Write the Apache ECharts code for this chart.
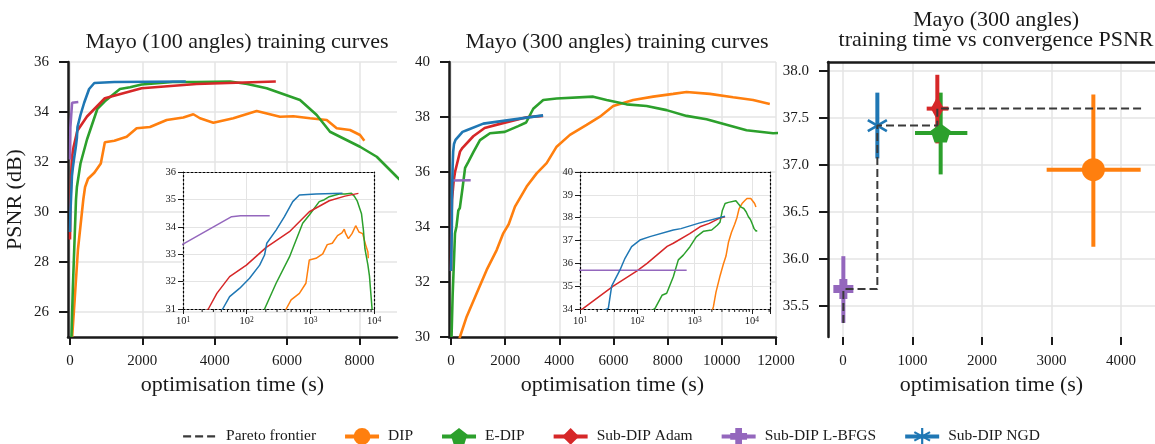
<!DOCTYPE html>
<html>
<head>
<meta charset="utf-8">
<script src="https://cdn.jsdelivr.net/npm/echarts@6/dist/echarts.min.js"></script>
<style>
html, body { margin: 0; padding: 0; background: #fff; }
#main { width: 1155px; height: 444px; }
</style>
</head>
<body>
<div id="main"></div>
<script>
var FONT = "'Liberation Serif', 'DejaVu Serif', serif";
var INK = '#1a1a1a';
var GRIDC = '#e4e4e4';

var methods = ['DIP', 'E-DIP', 'Sub-DIP Adam', 'Sub-DIP L-BFGS', 'Sub-DIP NGD'];
var colors = ['#ff7f0e', '#2ca02c', '#d62728', '#9467bd', '#1f77b4'];

// Mayo 100 angles: [time (s), PSNR (dB)]
var dip100 = [[60, 25.0], [130, 26.5], [220, 28.5], [368, 30.5], [417, 31.0], [499, 31.33], [673, 31.57], [852, 31.94],
  [964, 32.79], [1227, 32.85], [1290, 32.88], [1567, 33.01], [1843, 33.35], [2212, 33.4], [2673, 33.68], [3133, 33.78],
  [3410, 33.91], [3594, 33.75], [3963, 33.57], [4516, 33.75], [5161, 34.04], [5806, 33.81], [6175, 33.83], [6636, 33.75],
  [7097, 33.68], [7373, 33.35], [7741, 33.28], [8018, 33.08], [8137, 32.85]];
var edip100 = [[40, 25.0], [80, 27.0], [166, 30.5], [191, 31.0], [290, 31.94], [470, 32.9], [758, 34.13], [964, 34.43],
  [1380, 34.92], [1659, 34.99], [1981, 35.1], [2840, 35.2], [3500, 35.2], [4424, 35.22], [4900, 35.12], [5437, 34.95],
  [6359, 34.48], [6820, 33.88], [7188, 33.21], [8017, 32.61], [8480, 32.21], [9032, 31.41], [9400, 30.9]];
var adam100 = [[1, 28.9], [10, 30.1], [25, 31.0], [34, 31.57], [54, 32.18], [99, 32.6], [203, 33.25], [470, 33.82],
  [964, 34.55], [1981, 34.95], [3500, 35.12], [5690, 35.22]];
var lbfgs100 = [[1, 32.1], [10, 33.37], [58, 34.37], [80, 34.4], [230, 34.4]];
var ngd100 = [[1, 29.2], [10, 29.9], [30, 30.6], [42, 31.0], [54, 31.45], [78, 31.76], [111, 32.12], [160, 32.6],
  [191, 32.97], [207, 33.4], [290, 33.88], [392, 34.37], [529, 34.92], [673, 35.16], [1227, 35.2], [3200, 35.22]];

// Mayo 300 angles: [time (s), PSNR (dB)]
var dip300 = [[250, 29.6], [332, 30.01], [578, 30.74], [948, 31.59], [1317, 32.44], [1686, 33.16], [1930, 33.77],
  [2130, 34.1], [2362, 34.74], [2793, 35.47], [3162, 35.95], [3531, 36.32], [3900, 36.92], [4391, 37.35], [5007, 37.71],
  [5498, 38.01], [5989, 38.4], [6727, 38.62], [7465, 38.74], [8203, 38.84], [8697, 38.91], [9557, 38.84], [10417, 38.72],
  [11155, 38.62], [11771, 38.47]];
var edip300 = [[20, 30.0], [60, 31.5], [148, 33.77], [204, 34.03], [270, 34.6], [326, 34.69], [425, 35.41], [520, 36.15],
  [635, 36.36], [831, 36.73], [1070, 37.16], [1439, 37.41], [1985, 37.46], [2483, 37.67], [2774, 37.8], [3037, 38.3],
  [3406, 38.62], [3900, 38.67], [5251, 38.74], [5745, 38.62], [6483, 38.46], [7221, 38.4], [7959, 38.25], [8697, 38.04],
  [9435, 37.92], [10173, 37.72], [10911, 37.52], [11893, 37.41], [12420, 37.43]];
var adam300 = [[1, 32.4], [11.4, 34.03], [38, 35.0], [97.5, 35.66], [148, 36.0], [332, 36.74], [425, 36.88], [823, 37.3],
  [1242, 37.6], [1808, 37.75], [2793, 37.99], [3400, 38.04]];
var lbfgs300 = [[1, 35.69], [727, 35.7]];
var ngd300 = [[1, 32.4], [31.2, 34.03], [35.7, 35.0], [49.9, 35.71], [61, 36.22], [79.6, 36.73], [111, 37.02], [166, 37.17],
  [425, 37.46], [578, 37.52], [1193, 37.76], [3400, 38.06]];

var curves100 = [dip100, edip100, adam100, lbfgs100, ngd100];
var curves300 = [dip300, edip300, adam300, lbfgs300, ngd300];

// convergence (300 angles): mean time / PSNR with error extents
var convTime = [3602, 1405, 1357, 5, 494];
var convTimeLo = [2930, 1036, 1204, -60, 470];
var convTimeHi = [4283, 1789, 1516, 70, 520];
var convPsnr = [36.95, 37.34, 37.60, 35.68, 37.42];
var convPsnrLo = [36.13, 36.90, 37.23, 35.32, 37.07];
var convPsnrHi = [37.75, 37.77, 37.96, 36.03, 37.77];
var paretoTime = [5, 5, 494, 494, 1357, 1357, 4320];
var paretoPsnr = [35.32, 35.68, 35.68, 37.42, 37.42, 37.60, 37.60];

var timeTicks100 = [0, 2000, 4000, 6000, 8000];
var psnrTicks100 = [26, 28, 30, 32, 34, 36];
var timeTicks300 = [0, 2000, 4000, 6000, 8000, 10000, 12000];
var psnrTicks300 = [30, 32, 34, 36, 38, 40];
var convTimeTicks = [0, 1000, 2000, 3000, 4000];
var convPsnrTicks = [35.5, 36.0, 36.5, 37.0, 37.5, 38.0];

var symbols = [
  'circle',
  'path://M0,-1 L0.951,-0.309 L0.588,0.809 L-0.588,0.809 L-0.951,-0.309 Z',
  'diamond',
  'path://M-0.4,-1 L0.4,-1 L0.4,-0.4 L1,-0.4 L1,0.4 L0.4,0.4 L0.4,1 L-0.4,1 L-0.4,0.4 L-1,0.4 L-1,-0.4 L-0.4,-0.4 Z',
  'path://M-0.12,-1 L0.12,-1 L0.12,1 L-0.12,1 Z M-0.926,-0.396 L-0.806,-0.604 L0.926,0.396 L0.806,0.604 Z M-0.806,0.604 L-0.926,0.396 L0.806,-0.604 L0.926,-0.396 Z'
];
var symbolSizes = [23, 20, [13, 24], 20, 22];

function logMinor(lo, hi) {
  var out = [];
  for (var e = 1; e <= 4; e++) {
    for (var k = 2; k <= 9; k++) {
      var v = k * Math.pow(10, e);
      if (v > lo && v < hi) out.push(v);
    }
  }
  return out;
}

var tickFont = { fontFamily: FONT, fontSize: 15, color: INK };

function mainX(grid, min, max, ticks, showLine) {
  return {
    type: 'value', gridIndex: grid, min: min, max: max,
    axisLine: { show: showLine, onZero: false, lineStyle: { color: INK, width: 2.5 } },
    axisTick: { show: true, customValues: ticks, length: 8, lineStyle: { color: INK, width: 2 } },
    axisLabel: Object.assign({ customValues: ticks, margin: 17, formatter: function (v) { return String(v); } }, tickFont),
    splitLine: { show: true, lineStyle: { color: GRIDC, width: 1.5 } },
    name: 'optimisation time (s)', nameLocation: 'middle', nameGap: 37,
    nameTextStyle: { fontFamily: FONT, fontSize: 22, color: INK }
  };
}
function mainY(grid, min, max, ticks, fmt, name) {
  return {
    type: 'value', gridIndex: grid, min: min, max: max,
    axisLine: { show: true, onZero: false, lineStyle: { color: INK, width: 2.5 } },
    axisTick: { show: true, customValues: ticks, length: 9, lineStyle: { color: INK, width: 2 } },
    axisLabel: Object.assign({ customValues: ticks, margin: 19, formatter: fmt }, tickFont),
    splitLine: { show: true, lineStyle: { color: GRIDC, width: 1.5 } },
    name: name || '', nameLocation: 'middle', nameGap: 42,
    nameTextStyle: { fontFamily: FONT, fontSize: 22, color: INK }
  };
}
var dotted = { show: true, onZero: false, lineStyle: { color: '#000', width: 1.2, type: [2, 2] } };
function insetX(grid, max) {
  return {
    type: 'log', logBase: 10, gridIndex: grid, min: 10, max: max, z: 6,
    axisLine: dotted,
    axisTick: { show: true, length: 5, lineStyle: { color: INK, width: 1 } },
    axisLabel: {
      margin: 7, fontFamily: FONT, fontSize: 10.5, color: INK,
      formatter: function (v) {
        var l = Math.log(v) / Math.LN10, e = Math.round(l);
        if (Math.abs(l - e) > 1e-6) return '';
        return '10{s|' + e + '}';
      },
      rich: { s: { fontFamily: FONT, fontSize: 7.5, color: INK, verticalAlign: 'top' } }
    },
    splitLine: { show: true, lineStyle: { color: GRIDC, width: 1 } }
  };
}
function insetY(grid, min, max) {
  return {
    type: 'value', gridIndex: grid, min: min, max: max, interval: 1, z: 6,
    axisLine: dotted,
    axisTick: { show: true, length: 5, lineStyle: { color: INK, width: 1 } },
    axisLabel: { margin: 7, fontFamily: FONT, fontSize: 10.5, color: INK },
    splitLine: { show: true, lineStyle: { color: GRIDC, width: 1 } }
  };
}
function borderAxis(type, grid, pos, min, max, lineStyle, z) {
  return {
    type: type, gridIndex: grid, position: pos, min: min, max: max, z: z,
    axisLine: { show: true, onZero: false, lineStyle: lineStyle },
    axisTick: { show: false }, axisLabel: { show: false }, splitLine: { show: false }
  };
}

var series = [];

// right panel markers first, so the legend takes its icons from them
methods.forEach(function (m, i) {
  series.push({
    type: 'line', name: m, xAxisIndex: 6, yAxisIndex: 6,
    data: [[convTime[i], convPsnr[i]]],
    symbol: symbols[i], symbolSize: symbolSizes[i], symbolKeepAspect: true, showSymbol: true,
    itemStyle: { color: colors[i] }, lineStyle: { color: colors[i], width: 4 }, z: 4
  });
});
series.push({
  type: 'line', name: 'Pareto frontier', xAxisIndex: 6, yAxisIndex: 6,
  data: paretoTime.map(function (t, i) { return [t, paretoPsnr[i]]; }),
  symbol: 'none', lineStyle: { color: '#3a3a3a', width: 2, type: [8, 4] },
  itemStyle: { color: 'rgba(0,0,0,0)', borderWidth: 0 }, z: 5
});
methods.forEach(function (m, i) {
  series.push({
    type: 'custom', name: m, xAxisIndex: 6, yAxisIndex: 6, z: 3, silent: true,
    data: [[convTime[i], convPsnr[i], convTimeLo[i], convTimeHi[i], convPsnrLo[i], convPsnrHi[i]]],
    encode: { x: [0, 2, 3], y: [1, 4, 5] },
    renderItem: function (params, api) {
      var l = api.coord([api.value(2), api.value(1)]);
      var r = api.coord([api.value(3), api.value(1)]);
      var b = api.coord([api.value(0), api.value(4)]);
      var t = api.coord([api.value(0), api.value(5)]);
      var st = { stroke: colors[i], lineWidth: 4 };
      return {
        type: 'group', children: [
          { type: 'line', shape: { x1: l[0], y1: l[1], x2: r[0], y2: r[1] }, style: st },
          { type: 'line', shape: { x1: b[0], y1: b[1], x2: t[0], y2: t[1] }, style: st }
        ]
      };
    }
  });
});

function addCurves(curves, mx, my, ix, iy) {
  curves.forEach(function (d, i) {
    series.push({
      type: 'line', name: methods[i], xAxisIndex: mx, yAxisIndex: my, data: d,
      symbol: 'none', showSymbol: false, lineStyle: { color: colors[i], width: 2.6 }, itemStyle: { color: colors[i] }, z: 2
    });
    series.push({
      type: 'line', name: methods[i], xAxisIndex: ix, yAxisIndex: iy, data: d,
      symbol: 'none', showSymbol: false, lineStyle: { color: colors[i], width: 1.5 }, itemStyle: { color: colors[i] }, z: 7
    });
  });
}
addCurves(curves100, 0, 0, 1, 1);
addCurves(curves300, 3, 3, 4, 4);

function minorTicks(xi, yi, ymin, max) {
  series.push({
    type: 'custom', xAxisIndex: xi, yAxisIndex: yi, z: 7, silent: true,
    data: logMinor(10, max).map(function (v) { return [v, ymin]; }),
    renderItem: function (params, api) {
      var c = api.coord([api.value(0), api.value(1)]);
      return { type: 'line', shape: { x1: c[0], y1: c[1], x2: c[0], y2: c[1] + 3 }, style: { stroke: INK, lineWidth: 1 } };
    }
  });
}
minorTicks(1, 1, 31, 1e4);
minorTicks(4, 4, 34, 20700);

var titleStyle = { fontFamily: FONT, fontSize: 22, fontWeight: 'normal', color: INK, lineHeight: 20 };
var legendNames = ['Pareto frontier', 'DIP', 'E-DIP', 'Sub-DIP Adam', 'Sub-DIP L-BFGS', 'Sub-DIP NGD'];
var option = {
  animation: false,
  backgroundColor: '#fff',
  title: [
    { text: 'Mayo (100 angles) training curves', left: 232, top: 27, textAlign: 'center', textStyle: titleStyle },
    { text: 'Mayo (300 angles) training curves', left: 612, top: 27, textAlign: 'center', textStyle: titleStyle },
    { text: 'Mayo (300 angles)\ntraining time vs convergence PSNR', left: 991, top: 5, textAlign: 'center', textStyle: titleStyle }
  ],
  legend: {
    left: 177, top: 423, itemWidth: 34, itemHeight: 21, itemGap: 27,
    lineStyle: { width: 4 },
    textStyle: { fontFamily: FONT, fontSize: 15.5, color: INK, padding: [0, 0, 0, 4] },
    data: legendNames.map(function (n, i) {
      return i === 0 ? { name: n, lineStyle: { width: 2.2 } } : { name: n };
    })
  },
  grid: [
    { left: 68, top: 62, width: 329, height: 275, outerBoundsMode: 'none' },
    { left: 183, top: 172, width: 191, height: 137, show: true, backgroundColor: '#fff', borderWidth: 0, z: 5, outerBoundsMode: 'none' },
    { left: 449, top: 62, width: 327, height: 275, outerBoundsMode: 'none' },
    { left: 580, top: 172, width: 190, height: 137, show: true, backgroundColor: '#fff', borderWidth: 0, z: 5, outerBoundsMode: 'none' },
    { left: 828, top: 62, width: 327, height: 275, outerBoundsMode: 'none' }
  ],
  xAxis: [
    mainX(0, -55, 9040, timeTicks100, true),
    insetX(1, 1e4),
    borderAxis('log', 1, 'top', 10, 1e4, dotted.lineStyle, 6),
    mainX(2, -74, 12000, timeTicks300, true),
    insetX(3, 20700),
    borderAxis('log', 3, 'top', 10, 20700, dotted.lineStyle, 6),
    mainX(4, -216, 4489, convTimeTicks, false),
    borderAxis('value', 4, 'top', -216, 4489, { color: INK, width: 2.5 }, 1)
  ],
  yAxis: [
    mainY(0, 25, 36, psnrTicks100, function (v) { return String(v); }, 'PSNR (dB)'),
    insetY(1, 31, 36),
    borderAxis('value', 1, 'right', 31, 36, dotted.lineStyle, 6),
    mainY(2, 30, 40, psnrTicks300, function (v) { return String(v); }),
    insetY(3, 34, 40),
    borderAxis('value', 3, 'right', 34, 40, dotted.lineStyle, 6),
    mainY(4, 35.17, 38.096, convPsnrTicks, function (v) { return v.toFixed(1); })
  ],
  series: series
};

var chart = echarts.init(document.getElementById('main'), null, { renderer: 'canvas' });
chart.setOption(option);
</script>
</body>
</html>
